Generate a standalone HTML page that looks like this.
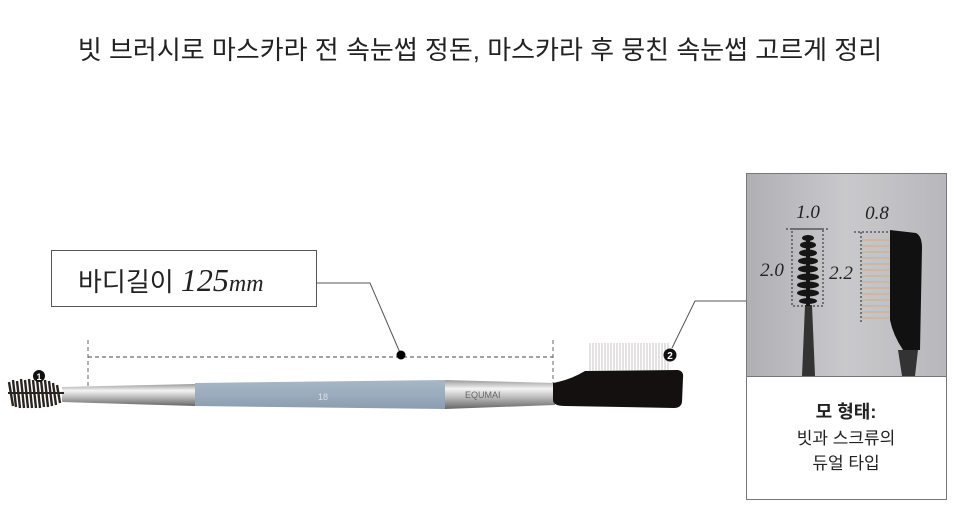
<!DOCTYPE html>
<html><head><meta charset="utf-8"><style>
body{margin:0;width:960px;height:527px;background:#fff;position:relative;overflow:hidden;font-family:"Liberation Sans","Noto Sans CJK KR",sans-serif;}
.t{position:absolute;left:0;width:960px;top:30px;text-align:center;font-size:26px;color:#222;}
</style></head><body>
<div class="t">빗 브러시로 마스카라 전 속눈썹 정돈, 마스카라 후 뭉친 속눈썹 고르게 정리</div>
<svg width="960" height="527" style="position:absolute;left:0;top:0">
<defs>
<linearGradient id="sil" x1="0" y1="0" x2="0" y2="1"><stop offset="0" stop-color="#999"/><stop offset=".3" stop-color="#f4f4f4"/><stop offset=".6" stop-color="#bbb"/><stop offset="1" stop-color="#666"/></linearGradient>
<linearGradient id="blu" x1="0" y1="0" x2="0" y2="1"><stop offset="0" stop-color="#a8b7c6"/><stop offset=".5" stop-color="#9aacbd"/><stop offset="1" stop-color="#8a9cae"/></linearGradient>
<linearGradient id="bg" x1="0" y1="0" x2="1" y2="0"><stop offset="0" stop-color="#b0b0b4"/><stop offset=".5" stop-color="#c9c9cc"/><stop offset="1" stop-color="#b8b8bc"/></linearGradient>
</defs>
<rect x="51.5" y="250.5" width="265" height="56" fill="#fff" stroke="#555"/>
<text x="78" y="291" font-size="26" fill="#222" font-family="Liberation Sans,Noto Sans CJK KR,sans-serif">바디길이 <tspan font-family="Liberation Serif,serif" font-style="italic" font-size="32">125</tspan><tspan font-family="Liberation Serif,serif" font-style="italic" font-size="24">mm</tspan></text>
<polyline points="316,283 370,283 401,355" fill="none" stroke="#555"/>
<line x1="88" y1="357" x2="553" y2="357" stroke="#444" stroke-dasharray="4,3"/>
<line x1="88" y1="340" x2="88" y2="390" stroke="#666" stroke-dasharray="4,3"/>
<line x1="553" y1="340" x2="553" y2="385" stroke="#666" stroke-dasharray="4,3"/>
<circle cx="401" cy="355" r="4.5" fill="#000"/>
<path d="M62,387 L195,384 L195,406 L62,402 Z" fill="url(#sil)"/>
<path d="M195,383 L445,380 L445,409 L195,406 Z" fill="url(#blu)"/>
<text x="318" y="400" font-size="9" fill="#d8e0e8">18</text>
<path d="M445,380 L555,383 L555,405 L445,409 Z" fill="url(#sil)"/>
<text x="465" y="398" font-size="9" fill="#666">EQUMAI</text>
<g stroke="#2a2420" stroke-width="2.4">
<line x1="9" y1="382" x2="13" y2="406"/><line x1="13" y1="380" x2="16" y2="407"/><line x1="17" y1="381" x2="20" y2="408"/><line x1="21" y1="379" x2="24" y2="408"/><line x1="25" y1="380" x2="28" y2="408"/><line x1="29" y1="379" x2="32" y2="408"/><line x1="33" y1="380" x2="36" y2="408"/><line x1="37" y1="379" x2="40" y2="408"/><line x1="41" y1="380" x2="44" y2="407"/><line x1="45" y1="380" x2="48" y2="407"/><line x1="49" y1="381" x2="52" y2="406"/><line x1="53" y1="383" x2="56" y2="405"/><line x1="57" y1="385" x2="60" y2="403"/>
</g>
<rect x="8" y="392" width="56" height="2" fill="#2a2420"/>
<circle cx="39" cy="376" r="6" fill="#111"/><text x="39" y="380" font-size="9" fill="#fff" text-anchor="middle" font-weight="bold">1</text>
<g stroke="#c8c4c6" stroke-width="1">
<path d="M590,343 V372 M593,343 V372 M596,343 V372 M599,343 V372 M602,343 V372 M605,343 V372 M608,343 V372 M611,343 V372 M614,343 V372 M617,343 V372 M620,343 V372 M623,343 V372 M626,343 V372 M629,343 V372 M632,343 V372 M635,343 V372 M638,343 V372 M641,343 V372 M644,343 V372 M647,343 V372 M650,343 V372 M653,343 V372 M656,343 V372 M659,343 V372 M662,343 V372 M665,343 V372 M668,343 V372"/>
</g>
<path d="M553,383 Q570,380 585,371 L678,370 Q684,371 683,378 L682,402 Q681,408 674,408 L565,406 Q553,406 553,400 Z" fill="#151010"/>
<circle cx="670" cy="355" r="6.5" fill="#111"/><text x="670" y="359" font-size="10" fill="#fff" text-anchor="middle" font-weight="bold">2</text>
<polyline points="672,348 695,301 746,301" fill="none" stroke="#555"/>
<rect x="746.5" y="173.5" width="200" height="326" fill="#fff" stroke="#777"/>
<rect x="747" y="174" width="199" height="202" fill="url(#bg)"/>
<line x1="747" y1="376.5" x2="946" y2="376.5" stroke="#777"/>
<path d="M802,376 L805,305 L812,305 L815,376 Z" fill="#333"/>
<g fill="#151515"><ellipse cx="808" cy="238" rx="6" ry="3"/><ellipse cx="808" cy="245" rx="8" ry="3.5"/><ellipse cx="808" cy="253" rx="9" ry="3.5"/><ellipse cx="808" cy="261" rx="10" ry="3.5"/><ellipse cx="808" cy="269" rx="10" ry="3.5"/><ellipse cx="808" cy="277" rx="11" ry="3.5"/><ellipse cx="808" cy="285" rx="11" ry="3.5"/><ellipse cx="808" cy="293" rx="11" ry="3.5"/><ellipse cx="808" cy="301" rx="9" ry="3"/></g>
<rect x="806" y="236" width="4" height="70" fill="#151515"/>
<g stroke="#222" stroke-dasharray="2,2" fill="none"><rect x="792" y="229" width="31" height="77"/><line x1="786" y1="229" x2="830" y2="229"/></g>
<text x="808" y="218" font-size="19" font-style="italic" font-family="Liberation Serif,serif" text-anchor="middle" fill="#222">1.0</text>
<text x="772" y="276" font-size="19" font-style="italic" font-family="Liberation Serif,serif" text-anchor="middle" fill="#222">2.0</text>
<text x="841" y="279" font-size="19" font-style="italic" font-family="Liberation Serif,serif" text-anchor="middle" fill="#222">2.2</text>
<text x="877" y="219" font-size="19" font-style="italic" font-family="Liberation Serif,serif" text-anchor="middle" fill="#222">0.8</text>
<g stroke="#c9b8a4" stroke-width="2"><path d="M862,240 H890 M862,246 H890 M862,252 H890 M862,258 H890 M862,264 H890 M862,270 H890 M862,276 H890 M862,282 H890 M862,288 H890 M862,294 H890 M862,300 H890 M862,306 H890 M862,312 H890 M862,318 H890"/></g>
<path d="M890,230 L916,233 Q922,236 922,248 L920,350 L903,350 Q893,335 890,320 Z" fill="#111"/>
<path d="M898,350 L902,376 L915,376 L918,350 Z" fill="#333"/>
<g stroke="#222" stroke-dasharray="2,2" fill="none"><line x1="854" y1="232" x2="890" y2="232"/><line x1="861" y1="232" x2="861" y2="322"/></g>
<text x="846" y="418" font-size="18" text-anchor="middle" fill="#222" font-weight="bold">모 형태:</text>
<text x="846" y="444" font-size="17" text-anchor="middle" fill="#222">빗과 스크류의</text>
<text x="846" y="469" font-size="17" text-anchor="middle" fill="#222">듀얼 타입</text>
</svg>
</body></html>
